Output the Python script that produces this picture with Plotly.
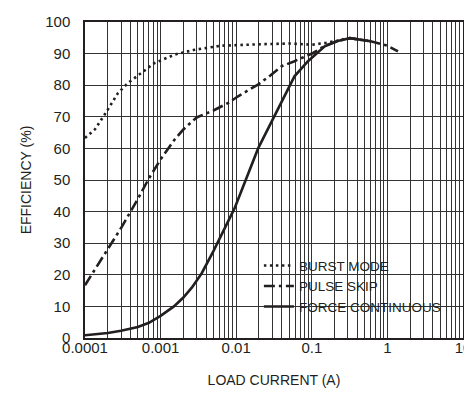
import plotly.graph_objects as go

# ---- data ----
burst_x = [1e-4, 1.35e-4, 1.82e-4, 2.73e-4, 3.7e-4, 5.6e-4, 8.3e-4, 1.54e-3, 2.8e-3,
           6.3e-3, 0.0117, 0.024, 0.053, 0.1, 0.155, 0.22, 0.32, 0.6]
burst_y = [63.3, 66, 70.7, 77.5, 80.7, 83.9, 87, 89.7, 91.2,
           92.5, 92.8, 93, 93.2, 92.8, 93.4, 94.2, 94.9, 93.9]

pulse_x = [1e-4, 2e-4, 3e-4, 5e-4, 7e-4, 1e-3, 1.5e-3, 2e-3, 3e-3, 5e-3, 8e-3,
           0.0106, 0.0194, 0.028, 0.04, 0.059, 0.104, 0.15, 0.22, 0.32, 0.6, 1.0, 1.38]
pulse_y = [16.7, 28, 34.8, 44, 50.5, 56.5, 62.5, 66, 69.8, 72, 74.5,
           76.5, 80.2, 83, 86, 87.6, 90.2, 92.5, 94, 94.9, 93.9, 92.5, 90.7]

force_x = [1e-4, 2e-4, 3e-4, 5e-4, 7e-4, 1e-3, 1.5e-3, 2e-3, 2.6e-3, 3.5e-3, 5e-3,
           7.1e-3, 0.0095, 0.0195, 0.031, 0.059, 0.089, 0.148, 0.22, 0.32, 0.6]
force_y = [0.85, 1.6, 2.3, 3.5, 4.8, 7, 10, 12.8, 16, 20.5, 27.5,
           34.8, 41, 60, 69.6, 82.8, 87.6, 92.3, 94, 94.9, 93.9]

series_names = ["BURST MODE", "PULSE SKIP", "FORCE CONTINUOUS"]

decade_labels = {-4: "0.0001", -3: "0.001", -2: "0.01", -1: "0.1", 0: "1", 1: "10"}
y_ticks = [0, 10, 20, 30, 40, 50, 60, 70, 80, 90, 100]

# ---- build ticks (gridlines at 1..9 per decade, labels only at decades) ----
x_tickvals, x_ticktext = [], []
for d in range(-4, 1):
    for k in range(1, 10):
        x_tickvals.append(k * 10.0 ** d)
        x_ticktext.append(decade_labels[d] if k == 1 else "")
x_tickvals.append(10.0)
x_ticktext.append(decade_labels[1])

ink = "#231f20"
font_family = "Liberation Sans, Arial, sans-serif"

fig = go.Figure()
fig.add_trace(go.Scatter(x=burst_x, y=burst_y, mode="lines", name=series_names[0],
                         line=dict(color=ink, width=2.6, dash="2.5px,3.5px")))
fig.add_trace(go.Scatter(x=pulse_x, y=pulse_y, mode="lines", name=series_names[1],
                         line=dict(color=ink, width=2.6, dash="11px,4px,3px,4px")))
fig.add_trace(go.Scatter(x=force_x, y=force_y, mode="lines", name=series_names[2],
                         line=dict(color=ink, width=2.6)))

# white background behind the legend (covers gridlines)
fig.add_shape(type="rect", xref="paper", yref="paper", x0=0.439, x1=0.992, y0=0.022, y1=0.247,
              fillcolor="white", line=dict(width=0), layer="between")

fig.update_layout(
    width=472, height=393,
    margin=dict(l=77, r=17, t=14, b=63),
    paper_bgcolor="white", plot_bgcolor="white",
    font=dict(family=font_family, size=14, color=ink),
    showlegend=True,
    legend=dict(x=0.460, y=0.278, xanchor="left", yanchor="top",
                bgcolor="rgba(0,0,0,0)", font=dict(size=13.5, color=ink),
                itemwidth=30, tracegroupgap=0),
)
fig.update_xaxes(
    type="log", range=[-4, 1],
    tickmode="array", tickvals=x_tickvals, ticktext=x_ticktext,
    showgrid=True, gridcolor="#333333", gridwidth=1,
    showline=True, mirror=True, linecolor=ink, linewidth=1.5,
    ticks="", ticklabelstandoff=-5, tickfont=dict(size=15),
    title=dict(text="LOAD CURRENT (A)", standoff=20, font=dict(size=14)),
    zeroline=False, automargin=False,
)
fig.update_yaxes(
    range=[0, 100], tickmode="array", tickvals=y_ticks,
    showgrid=True, gridcolor="#333333", gridwidth=1,
    showline=True, mirror=True, linecolor=ink, linewidth=1.5,
    ticks="", ticklabelstandoff=10, tickfont=dict(size=15),
    title=dict(text="EFFICIENCY (%)", standoff=10, font=dict(size=14)),
    zeroline=False, automargin=False,
)

fig.write_html("out.html")
